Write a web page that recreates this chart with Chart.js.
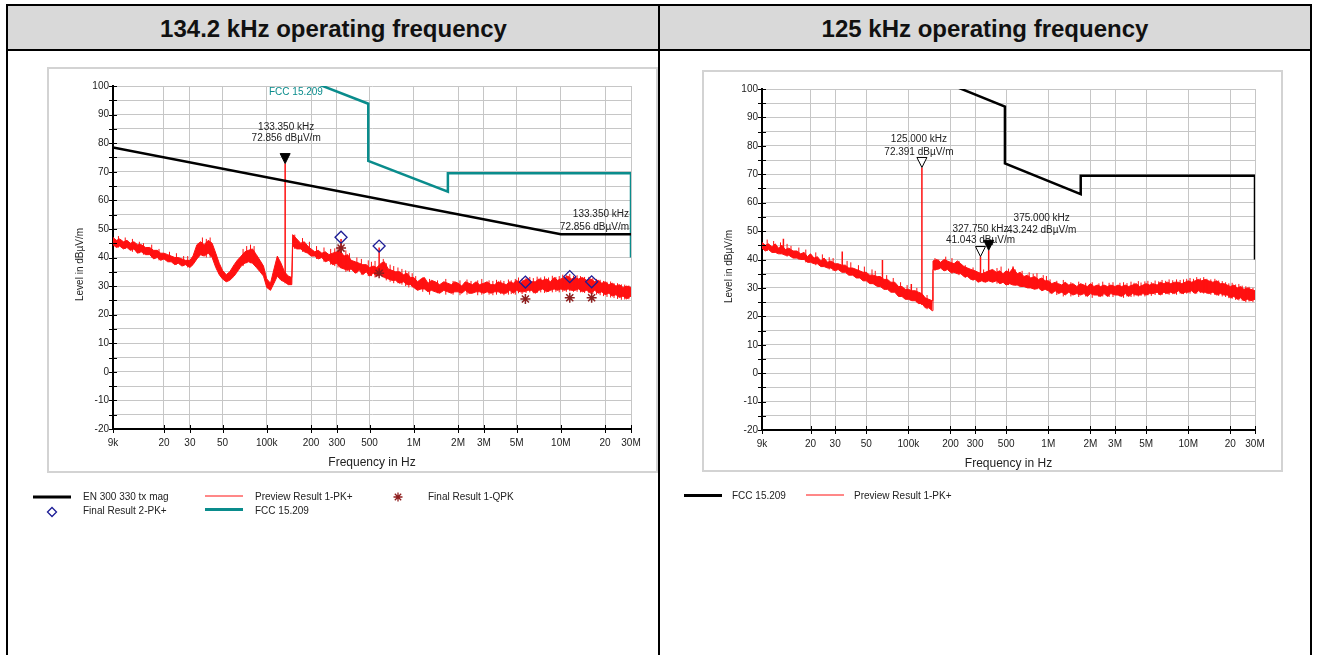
<!DOCTYPE html>
<html lang="en">
<head>
<meta charset="UTF-8">
<title>Radiated emissions 9 kHz - 30 MHz</title>
<script src="https://cdn.jsdelivr.net/npm/chart.js"></script>
<style>
  body { margin: 0; width: 1319px; height: 655px; overflow: hidden; background: #fff; position: relative;
         font-family: "Liberation Sans", Arial, sans-serif; }
  .rule { position: absolute; background: #000; z-index: 2; }
  .head { position: absolute; top: 6px; height: 43px; background: #d9d9d9; z-index: 1;
          font-weight: bold; font-size: 24px; line-height: 45px; text-align: center; color: #111; }
  canvas { position: absolute; }
</style>
</head>
<body>
  <div class="head" style="left:8px;width:651px">134.2 kHz operating frequency</div>
  <div class="head" style="left:660px;width:650px">125 kHz operating frequency</div>
  <div class="rule" style="left:6px;top:4px;width:1306px;height:2px"></div>
  <div class="rule" style="left:6px;top:49px;width:1306px;height:2px"></div>
  <div class="rule" style="left:6px;top:4px;width:2px;height:660px"></div>
  <div class="rule" style="left:658px;top:4px;width:2px;height:660px"></div>
  <div class="rule" style="left:1310px;top:4px;width:2px;height:660px"></div>

  <canvas id="c134" width="639" height="470" style="left:20px;top:60px"></canvas>
  <canvas id="c125" width="620" height="470" style="left:680px;top:60px"></canvas>

<script>
// sweep frequencies in kHz (shared by both scans)
const sweepKHz = [
  9, 9.5, 10, 10.6, 11.2, 11.8, 12.5, 13.2, 14, 15, 16, 17, 18, 19, 20, 21.2, 22.4, 23.7, 25, 26.5,
  28, 30, 31.5, 33.5, 35.5, 37.5, 40, 42.5, 45, 47.5, 50, 53, 56, 60, 63, 67, 71, 75, 80, 85, 90, 95,
  100, 106, 112, 118, 125, 132, 140, 148, 150, 160, 170, 180, 190, 200, 212, 224, 237, 250, 265, 280,
  300, 315, 335, 355, 375, 400, 425, 450, 475, 500, 530, 560, 600, 630, 670, 710, 750, 800, 850, 900, 950,
  1000, 1060, 1120, 1180, 1250, 1320, 1400, 1500, 1600, 1700, 1800, 1900, 2000, 2120, 2240, 2370, 2500, 2650, 2800, 3000,
  3150, 3350, 3550, 3750, 4000, 4250, 4500, 4750, 5000, 5300, 5600, 6000, 6300, 6700, 7100, 7500, 8000, 8500, 9000, 9500,
  10000, 10600, 11200, 11800, 12500, 13200, 14000, 15000, 16000, 17000, 18000, 19000, 20000, 21200, 22400, 23700, 25000, 26500, 28000, 30000
];

// 134.2 kHz scan: upper / lower edge of the peak trace (dBµV/m)
const pk134Hi = [
  47, 46, 46.5, 45.5, 46, 45, 45.5, 44.5, 44.5, 43.5, 43.5, 42.5, 42.5, 41.5, 41.5, 41, 40.5, 40, 40, 39.5,
  39, 39, 40.5, 44.5, 45.5, 44.5, 46, 45, 41.5, 38, 35.5, 34, 35, 37.5, 39, 40.5, 42, 42.5, 43, 41, 39, 37,
  32.5, 31, 36, 40.5, 38, 35, 33.5, 33, 48, 46.5, 45, 45.5, 44, 43, 42, 42.5, 41.5, 42, 41, 41.5,
  42, 42.5, 40.5, 41, 39, 38.5, 38, 37.5, 37.5, 36.5, 37, 36.5, 38, 38.5, 36, 35.5, 35, 35, 34, 34.5, 33,
  33, 31.5, 32.5, 33, 31, 32, 31.5, 30.5, 31.5, 31, 30.5, 31.5, 31, 30, 31.5, 31, 30.5, 31.5, 30.5, 31,
  31.5, 30.5, 30.5, 31.5, 31, 30.5, 31.5, 31, 32, 31, 32, 32.5, 31.5, 31.5, 32.5, 32, 32.5, 31.5, 33, 32,
  32.5, 33, 33.5, 32.5, 33, 32.5, 33, 32, 32.5, 31.5, 32, 31, 31.5, 30.5, 31, 30, 30.5, 29.5, 30, 29.5
];
const pk134Lo = [
  44.5, 43.5, 44, 43, 43.5, 42.5, 43, 41.5, 42, 41, 41, 39.5, 40, 39, 39.5, 38.5, 38.5, 37.5, 38, 37,
  37.5, 36.5, 37.5, 39.5, 41, 40.5, 41.5, 40, 36.5, 34, 32.5, 31.5, 32, 33.5, 35, 37, 38, 38.5, 38, 36.5, 35, 33.5,
  29.5, 28.5, 31, 33.5, 32, 31.5, 30.5, 30.5, 44, 43, 43, 42, 41.5, 40.5, 40.5, 39.5, 40, 38.5, 39, 37.5,
  38, 36.5, 36, 35.5, 36, 34.5, 35.5, 34, 35, 33.5, 34.5, 33.5, 34, 33, 32.5, 32, 32, 31, 31.5, 30.5, 30.5,
  29.5, 28.5, 29, 29, 28, 28.5, 28, 27.5, 28.5, 28, 27.5, 28, 28, 27.5, 28.5, 27.5, 27.5, 28, 28, 27.5,
  28, 27.5, 28, 28, 27.5, 27.5, 28.5, 27.5, 28.5, 28, 28, 28.5, 28.5, 27.5, 28.5, 29, 28, 28.5, 29, 28.5,
  29, 28.5, 29, 28.5, 28.5, 29, 28, 28.5, 27.5, 28.5, 27.5, 28, 27, 27.5, 26.5, 27, 26, 26.5, 25.5, 26.5
];

// 125 kHz scan
const pk125Hi = [
  46, 45, 45.5, 44.5, 45.5, 44, 45, 43.5, 44, 43, 43, 42, 42.5, 41, 42, 40.5, 41, 39.5, 40.5, 39,
  39.5, 38.5, 38.5, 38, 38, 37, 37, 36.5, 36, 35.5, 35.5, 34.5, 34.5, 34, 34, 33, 33, 32, 32, 30.5, 30.5, 29.5,
  29.5, 29, 29, 28.5, 28, 26.5, 26, 25.5, 39.5, 40, 39, 40, 39.5, 39, 38.5, 39.5, 38.5, 37.5, 37, 36.5,
  36, 35.5, 35, 35.5, 36, 36.5, 35.5, 36, 35, 36, 35.5, 37, 35, 35.5, 34, 34.5, 33.5, 34, 33, 33.5, 32.5,
  32.5, 31.5, 32, 31.5, 31, 32, 31, 31.5, 30.5, 31.5, 31, 30.5, 31.5, 30.5, 31, 30.5, 31, 30.5, 31, 30.5,
  31, 30.5, 31, 30.5, 31, 31.5, 30.5, 31, 31.5, 31, 31.5, 31, 32, 31.5, 32, 31.5, 32, 32, 31.5, 32,
  32.5, 32, 32.5, 33, 32.5, 33, 32.5, 32, 32.5, 31.5, 31.5, 31, 30.5, 31, 30, 30.5, 29.5, 30, 29.5, 29
];
const pk125Lo = [
  44, 43, 43.5, 42.5, 42.5, 42, 42, 41.5, 41.5, 40.5, 40.5, 40, 40, 39, 39, 38.5, 38.5, 37.5, 37.5, 37,
  37, 36, 36.5, 35.5, 35.5, 34.5, 34.5, 33.5, 33.5, 32.5, 32.5, 31.5, 31.5, 30.5, 30.5, 29.5, 29.5, 28.5, 28.5, 27, 27, 26,
  26, 25.5, 25.5, 24.5, 24.5, 23, 23, 22, 36.5, 36.5, 37, 36, 36.5, 35.5, 35.5, 35, 35, 34, 34, 33,
  33, 32, 32.5, 32, 32.5, 32, 32.5, 31.5, 32, 31, 31.5, 31, 31, 30.5, 30.5, 30, 30, 29.5, 30, 29, 29.5,
  29, 28, 29, 28, 28.5, 27.5, 28.5, 27.5, 28, 27.5, 28, 27, 28, 27.5, 27.5, 27, 28, 27, 28, 27.5,
  27.5, 27, 28, 27, 28, 27.5, 27.5, 28, 27.5, 28, 28, 28.5, 27.5, 28.5, 28, 28.5, 28, 29, 28, 28.5,
  28.5, 29, 28, 29, 28.5, 28.5, 28, 28.5, 27.5, 28, 27.5, 27.5, 26.5, 27, 26, 26.5, 25.5, 26, 25.5, 26
];

// short noise excursions between sweep points: [kHz, low dB, high dB]
const fuzz134 = [
  [9.8, 43.5, 47.5], [10.9, 43, 47], [12.2, 42, 46.5], [13.6, 41.5, 45.5], [14.5, 41, 45], [16.5, 40, 44.5],
  [18.5, 39, 43], [21.8, 38.5, 42], [24.3, 37.5, 41.5], [27.2, 37, 40.5], [29, 36.5, 40.5], [36.5, 40.5, 47],
  [38.8, 40, 46.5], [41.2, 40, 47], [69, 37, 43], [73, 38, 44], [77.5, 38, 44.5], [82, 37.5, 44],
  [155, 43, 48], [175, 42, 46.8], [195, 41, 45.5], [218, 39.5, 44], [245, 38.5, 43.5], [272, 37.5, 43],
  [290, 37, 43.2], [305, 36.5, 43.8], [345, 35, 42.5], [365, 35, 41.5], [410, 34.5, 40], [440, 34, 39.5],
  [490, 33.5, 39], [515, 33.5, 38.5], [545, 33, 38.8], [620, 33, 39.5], [650, 32, 38], [690, 31.5, 37.5],
  [730, 31, 37], [780, 31, 36.5], [830, 30.5, 36], [880, 30, 35.5], [925, 29.5, 35], [975, 29.5, 34.5],
  [1030, 29, 33.5], [1150, 28, 33], [1280, 27, 32.5], [1450, 27.5, 32], [1650, 27, 32.5], [1850, 27, 31.8],
  [2060, 26.8, 32], [2300, 27, 32.3], [2450, 27.5, 31.8], [2720, 26.8, 32], [2900, 27, 32.5], [3250, 27, 32],
  [3450, 26.8, 31.8], [3650, 27, 32.2], [3900, 27.2, 32], [4100, 26.8, 31.8], [4400, 27, 32.3], [4600, 27.2, 32],
  [4900, 27, 32.5], [5150, 27.5, 33], [5450, 27.2, 32.6], [5800, 27.6, 33], [6150, 27.8, 33.2], [6500, 27.5, 32.8],
  [6900, 27.6, 33.3], [7300, 27.8, 33], [7750, 27.6, 33.4], [8250, 28, 33], [8750, 27.8, 33.6], [9250, 28, 33.2],
  [9750, 27.8, 33.5], [10300, 28, 34], [10900, 28, 33.8], [11500, 28.2, 34.2], [12200, 28, 33.6], [12900, 28, 33.8],
  [13600, 27.8, 33.5], [14500, 27.6, 33.2], [15500, 27.5, 33.2], [16500, 27.2, 32.8], [17500, 27, 32.5], [18500, 26.8, 32.2],
  [19500, 26.5, 31.8], [20600, 26.2, 31.5], [21800, 26, 31.6], [23000, 25.8, 31], [24300, 25.5, 31], [25800, 25.2, 30.6],
  [27200, 25.3, 30.5], [29000, 25.4, 30.2]
];
const fuzz125 = [
  [9.8, 43, 47], [10.9, 42.5, 46.5], [12.2, 42, 46], [13.6, 41, 45.5], [14.5, 41, 44.8], [16.5, 40, 44.2],
  [18.5, 39, 43.5], [21.8, 38, 42.5], [24.3, 37.5, 41.8], [27.2, 36.5, 40.8], [29, 36, 40.5], [36.5, 35, 39.5],
  [38.8, 34.5, 39], [44, 33.5, 38], [48.5, 32.5, 37.5], [55, 31.5, 36.5], [58, 31, 36], [70, 29.5, 34.5],
  [78, 28.5, 33.5], [88, 27, 32], [98, 26, 31], [115, 25, 30], [136, 22.5, 27.5],
  [155, 36, 40.5], [165, 36.5, 40], [185, 36, 41], [205, 35, 40.5], [230, 34.5, 39.5], [255, 33.5, 38],
  [290, 32.5, 37.2], [345, 32, 36.5], [430, 31.5, 37], [460, 31.5, 37.5], [520, 31, 36.8], [580, 30.8, 36.5],
  [650, 30.5, 36], [730, 30, 35.5], [780, 29.8, 35], [830, 29.5, 35.2], [920, 29.5, 34.5], [970, 29.2, 34.2],
  [1030, 28, 33], [1150, 27.5, 32.5], [1280, 27, 32.8], [1450, 27, 32], [1650, 26.8, 32.2], [1850, 27, 31.8],
  [2060, 26.5, 32], [2300, 26.8, 31.6], [2450, 27, 32.2], [2720, 26.8, 31.8], [2900, 26.8, 32], [3250, 27, 31.8],
  [3450, 26.5, 32], [3650, 27, 31.7], [3900, 26.8, 32.2], [4100, 27, 31.8], [4400, 27, 32.4], [4600, 27.2, 31.9],
  [4900, 27, 32.3], [5150, 27.4, 32.5], [5450, 27.2, 32], [5800, 27.5, 32.6], [6150, 27.6, 32.3], [6500, 27.5, 32.8],
  [6900, 27.8, 32.5], [7300, 27.6, 33], [7750, 27.8, 32.7], [8250, 27.6, 33], [8750, 28, 32.8], [9250, 27.8, 33],
  [9750, 28, 33.2], [10300, 28, 33.5], [10900, 28.2, 33.2], [11500, 28, 33.8], [12200, 28.2, 33.4], [12900, 28, 33.8],
  [13600, 28, 33.2], [14500, 27.6, 33], [15500, 27.5, 33.2], [16500, 27.2, 32.6], [17500, 27, 32.4], [18500, 26.8, 32],
  [19500, 26.4, 31.6], [20600, 26.2, 31.8], [21800, 25.8, 31.2], [23000, 25.6, 31.4], [24300, 25.5, 30.8], [25800, 25, 30.6],
  [27200, 25.2, 30.4], [29000, 25, 30]
];

// narrow spurs: [kHz, floor dB, top dB]
const spikes134 = [[320, 38, 46.5], [581, 34, 43.5]];
const spikes125 = [[12.8, 44, 47.3], [33.7, 37, 42.8], [65.3, 31, 39.8], [105, 27, 31.4], [560, 33, 37.5]];

// peak markers
const markerKHz134 = [133.35];
const markerLevel134 = [72.856];
const markerFloor134 = [31];
const markerKHz125 = [125, 327.75, 375];
const markerLevel125 = [72.391, 41.043, 43.242];
const markerFloor125 = [24, 33, 33];

// final measurements (134.2 kHz)
const finalKHz = [320, 581, 5740, 11500, 16200];
const finalQpk = [43.3, 34.5, 25.5, 25.9, 25.9];
const finalPk2 = [47.1, 44.0, 31.4, 33.3, 31.5];

// limit lines
const en300330KHz = [9, 10000, 30000];
const en300330Level = [78.5, 48.1, 48.1];
const fccKHz = [9, 490, 490, 1705, 1705, 30000, 30000];
const fccLevel = [128.5, 93.8, 73.8, 63, 69.5, 69.5, 40];

const freqTicks = [9, 20, 30, 50, 100, 200, 300, 500, 1000, 2000, 3000, 5000, 10000, 20000, 30000];
const freqTickLabels = ['9k', '20', '30', '50', '100k', '200', '300', '500', '1M', '2M', '3M', '5M', '10M', '20', '30M'];

const FONT = '"Liberation Sans", Arial, sans-serif';
const RED = '#ff1010';
const TEAL = '#0a8c8c';
const NAVY = '#1c1c96';
const MAROON = '#8e1e1e';

Chart.defaults.font.family = FONT;
Chart.defaults.color = '#222';

function pts(fs, vs) {
  return fs.map((f, i) => ({ x: f, y: vs[i] }));
}

function spikeLines(list) {
  const out = [];
  list.forEach(([f, lo, hi]) => out.push({ x: f, y: lo }, { x: f, y: hi }, { x: f, y: null }));
  return out;
}

function lineSet(label, data, color, width, extra) {
  return Object.assign({ label, data, borderColor: color, backgroundColor: color, borderWidth: width,
    pointRadius: 0, tension: 0, fill: false }, extra || {});
}

function drawStar(c, x, y, r) {
  c.beginPath();
  for (let k = 0; k < 4; k++) {
    const a = k * Math.PI / 4;
    c.moveTo(x - r * Math.cos(a), y - r * Math.sin(a));
    c.lineTo(x + r * Math.cos(a), y + r * Math.sin(a));
  }
  c.stroke();
}

function drawDiamond(c, x, y, r) {
  c.beginPath();
  c.moveTo(x - r, y); c.lineTo(x, y - r); c.lineTo(x + r, y); c.lineTo(x, y + r);
  c.closePath();
  c.stroke();
}

// frame, tick marks, axis titles, markers and legend
function decor(cfg) {
  return {
    id: 'decor',
    beforeDraw(chart) {
      const c = chart.ctx;
      c.save();
      c.strokeStyle = '#d3d3d3';
      c.lineWidth = 2;
      c.strokeRect(cfg.frame[0], cfg.frame[1], cfg.frame[2], cfg.frame[3]);
      c.restore();
    },
    afterDraw(chart) {
      const c = chart.ctx, a = chart.chartArea, xs = chart.scales.x, ys = chart.scales.y;
      c.save();

      c.strokeStyle = '#000';
      c.lineWidth = 1;
      c.beginPath();
      ys.ticks.forEach(t => {
        const y = Math.round(ys.getPixelForValue(t.value)) + 0.5;
        c.moveTo(a.left - 4, y); c.lineTo(a.left + 4, y);
      });
      xs.ticks.forEach(t => {
        const x = Math.round(xs.getPixelForValue(t.value)) + 0.5;
        c.moveTo(x, a.bottom - 4); c.lineTo(x, a.bottom + 4);
      });
      c.stroke();

      c.fillStyle = '#222';
      c.textAlign = 'center';
      c.textBaseline = 'middle';
      c.font = '12px ' + FONT;
      c.fillText('Frequency in Hz', (a.left + a.right) / 2, a.bottom + 33.5);
      c.save();
      c.translate(a.left - 33, (a.top + a.bottom) / 2 + 7);
      c.rotate(-Math.PI / 2);
      c.font = '10px ' + FONT;
      c.fillText('Level in dBµV/m', 0, 0);
      c.restore();

      // peak markers with their readouts
      c.font = '10px ' + FONT;
      cfg.markerKHz.forEach((f, i) => {
        const lvl = cfg.markerLevel[i];
        const px = xs.getPixelForValue(f), py = ys.getPixelForValue(lvl);
        const st = cfg.markerStyle[i];
        c.beginPath();
        c.moveTo(px - 5, py - 10); c.lineTo(px + 5, py - 10); c.lineTo(px, py);
        c.closePath();
        c.fillStyle = st.filled ? '#000' : '#fff';
        c.fill();
        c.strokeStyle = '#000';
        c.stroke();
        c.fillStyle = '#222';
        c.textAlign = 'center';
        c.fillText(f.toFixed(3) + ' kHz', px + st.dx, py + st.dy[0]);
        c.fillText(lvl.toFixed(3) + ' dBµV/m', px + st.dx, py + st.dy[1]);
      });

      if (cfg.extra) cfg.extra(c, a, xs, ys);

      // legend
      c.textAlign = 'left';
      cfg.legend.forEach(it => {
        c.strokeStyle = it.color;
        if (it.kind === 'line') {
          c.lineWidth = it.width;
          c.beginPath();
          c.moveTo(it.x, it.y); c.lineTo(it.x + 38, it.y);
          c.stroke();
        } else if (it.kind === 'star') {
          c.lineWidth = 1.3;
          drawStar(c, it.x, it.y, 4.5);
        } else {
          c.lineWidth = 1.3;
          drawDiamond(c, it.x, it.y, 4.5);
        }
        c.fillStyle = '#222';
        c.font = '10px ' + FONT;
        c.fillText(it.text, it.tx, it.ty);
      });
      c.restore();
    }
  };
}

function axes(yW, xH) {
  return {
    x: {
      type: 'logarithmic', min: 9, max: 30000,
      afterBuildTicks: s => { s.ticks = freqTicks.map(v => ({ value: v })); },
      afterFit: s => { s.height = xH; },
      ticks: { autoSkip: false, maxRotation: 0, padding: 8, color: '#222', font: { size: 10 },
               callback: v => freqTickLabels[freqTicks.indexOf(v)] },
      grid: { color: '#c6c6c6', lineWidth: 1, drawTicks: false },
      border: { color: '#000', width: 2 }
    },
    y: {
      min: -20, max: 100,
      afterFit: s => { s.width = yW; },
      ticks: { stepSize: 5, autoSkip: false, padding: 4, color: '#222', font: { size: 10 },
               callback: v => (v % 10 === 0 ? String(v) : '') },
      grid: { color: '#c6c6c6', lineWidth: 1, drawTicks: false },
      border: { color: '#000', width: 2 }
    }
  };
}

const baseOptions = (pad, yW, xH) => ({
  responsive: false,
  animation: false,
  devicePixelRatio: 1,
  layout: { padding: pad },
  plugins: { legend: { display: false }, tooltip: { enabled: false } },
  scales: axes(yW, xH)
});

// 134.2 kHz
new Chart(document.getElementById('c134'), {
  type: 'line',
  data: {
    datasets: [
      { label: 'Final Result 1-QPK', data: pts(finalKHz, finalQpk), showLine: false, pointStyle: 'star',
        pointRadius: 5, borderColor: MAROON, borderWidth: 1.5, backgroundColor: MAROON },
      { label: 'Final Result 2-PK+', data: pts(finalKHz, finalPk2), showLine: false, pointStyle: 'rectRot',
        pointRadius: 6, borderColor: NAVY, borderWidth: 1.3, backgroundColor: 'rgba(0,0,0,0)' },
      lineSet('EN 300 330 tx mag', pts(en300330KHz, en300330Level), '#000', 2.5),
      lineSet('FCC 15.209', pts(fccKHz, fccLevel), TEAL, 2.5),
      lineSet('spurs', spikeLines(spikes134.concat(markerKHz134.map((f, i) => [f, markerFloor134[i], markerLevel134[i]]))),
        RED, 1.5, { spanGaps: false }),
      lineSet('noise', spikeLines(fuzz134), RED, 1, { spanGaps: false }),
      lineSet('Preview Result 1-PK+', pts(sweepKHz, pk134Hi), RED, 1, { fill: '+1' }),
      lineSet('pk low', pts(sweepKHz, pk134Lo), RED, 1)
    ]
  },
  options: baseOptions({ left: 0, right: 28, top: 26, bottom: 56 }, 93, 45),
  plugins: [decor({
    frame: [28, 8, 609, 404],
    markerKHz: markerKHz134,
    markerLevel: markerLevel134,
    markerStyle: [{ filled: true, dx: 1, dy: [-36.5, -25] }],
    extra(c, a, xs, ys) {
      c.fillStyle = TEAL;
      c.textAlign = 'left';
      c.fillText('FCC 15.209', a.left + 156, a.top + 6);
      const yEnd = ys.getPixelForValue(en300330Level[en300330Level.length - 1]);
      c.fillStyle = '#222';
      c.textAlign = 'right';
      c.fillText(markerKHz134[0].toFixed(3) + ' kHz', a.right - 2, yEnd - 20);
      c.fillText(markerLevel134[0].toFixed(3) + ' dBµV/m', a.right - 2, yEnd - 7);
    },
    legend: [
      { kind: 'line', color: '#000', width: 3, x: 13, y: 437, text: 'EN 300 330 tx mag', tx: 63, ty: 437 },
      { kind: 'line', color: RED, width: 1, x: 185, y: 436, text: 'Preview Result 1-PK+', tx: 235, ty: 437 },
      { kind: 'star', color: MAROON, x: 378, y: 437, text: 'Final Result 1-QPK', tx: 408, ty: 437 },
      { kind: 'diamond', color: NAVY, x: 32, y: 452, text: 'Final Result 2-PK+', tx: 63, ty: 451 },
      { kind: 'line', color: TEAL, width: 3, x: 185, y: 449.5, text: 'FCC 15.209', tx: 235, ty: 451 }
    ]
  })]
});

// 125 kHz
new Chart(document.getElementById('c125'), {
  type: 'line',
  data: {
    datasets: [
      lineSet('FCC 15.209', pts(fccKHz, fccLevel), '#000', 2.5),
      lineSet('spurs', spikeLines(spikes125.concat(markerKHz125.map((f, i) => [f, markerFloor125[i], markerLevel125[i]]))),
        RED, 1.5, { spanGaps: false }),
      lineSet('noise', spikeLines(fuzz125), RED, 1, { spanGaps: false }),
      lineSet('Preview Result 1-PK+', pts(sweepKHz, pk125Hi), RED, 1, { fill: '+1' }),
      lineSet('pk low', pts(sweepKHz, pk125Lo), RED, 1)
    ]
  },
  options: baseOptions({ left: 0, right: 45, top: 29, bottom: 55 }, 82, 45),
  plugins: [decor({
    frame: [23, 11, 579, 400],
    markerKHz: markerKHz125,
    markerLevel: markerLevel125,
    markerStyle: [
      { filled: false, dx: -3, dy: [-28.5, -15.5] },
      { filled: false, dx: 0, dy: [-27.5, -16] },
      { filled: true, dx: 53, dy: [-32, -20.5] }
    ],
    legend: [
      { kind: 'line', color: '#000', width: 3, x: 4, y: 435.5, text: 'FCC 15.209', tx: 52, ty: 436.5 },
      { kind: 'line', color: RED, width: 1, x: 126, y: 435, text: 'Preview Result 1-PK+', tx: 174, ty: 436.5 }
    ]
  })]
});
</script>
</body>
</html>
